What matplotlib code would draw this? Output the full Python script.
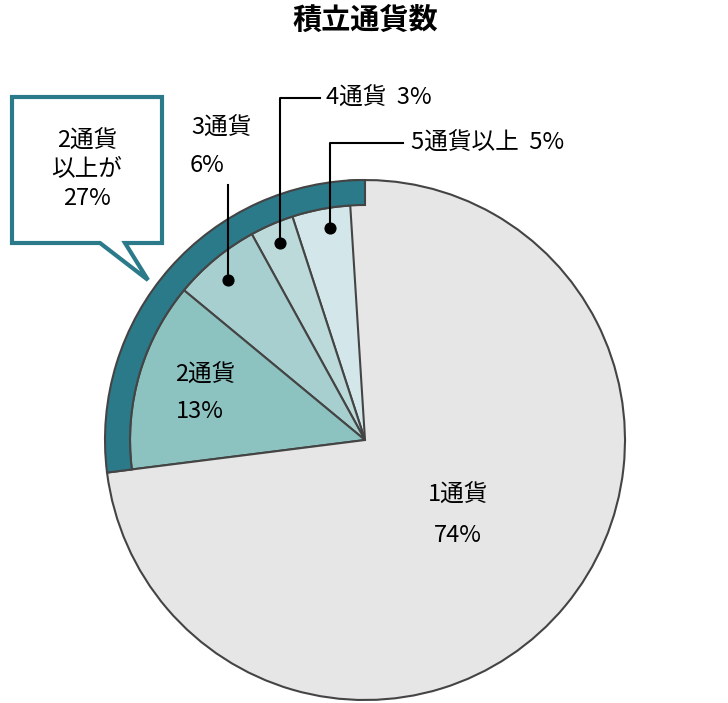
import numpy as np
import matplotlib.pyplot as plt
from matplotlib.patches import Wedge, Polygon

plt.rcParams['font.family'] = 'Noto Sans CJK JP'

labels = ['5通貨以上', '4通貨', '3通貨', '2通貨', '1通貨']
shares = [5, 3, 6, 13, 74]
colors = ['#d3e7ea', '#bcdada', '#a8cfcf', '#8cc3c0', '#e6e6e6']

H = 703
fig = plt.figure(figsize=(7.28, 7.03), dpi=100)
ax = fig.add_axes([0, 0, 1, 1])
ax.set_xlim(0, 728)
ax.set_ylim(0, H)
ax.axis('off')

cx, cy = 365, H - 440
R, r_in = 260, 235

# wedges counterclockwise from top
start = 90.0
for lab, s, c in zip(labels, shares, colors):
    end = start + s * 3.6
    rad = R if lab == '1通貨' else r_in
    ax.add_patch(Wedge((cx, cy), rad, start, end, fc=c, ec='#444444', lw=1.5))
    start = end

# outer ring for 2+ currencies
ring_end = 90 + sum(shares[:4]) * 3.6
ax.add_patch(Wedge((cx, cy), R, 90, ring_end, width=R - r_in,
                   fc='#2b7a8a', ec='#444444', lw=1.5))

def Y(y):
    return H - y

ax.text(365, Y(20), '積立通貨数', ha='center', va='center', fontsize=21, fontweight='bold')

fs = 17
ax.text(458, Y(495), '1通貨', ha='center', va='center', fontsize=fs)
ax.text(458, Y(535), '74%', ha='center', va='center', fontsize=fs)
ax.text(205, Y(375), '2通貨', ha='center', va='center', fontsize=fs)
ax.text(200, Y(412), '13%', ha='center', va='center', fontsize=fs)
ax.text(222, Y(128), '3通貨', ha='center', va='center', fontsize=fs)
ax.text(207, Y(165), '6%', ha='center', va='center', fontsize=fs)
ax.text(326, Y(98), '4通貨  3%', ha='left', va='center', fontsize=fs)
ax.text(411, Y(143), '5通貨以上  5%', ha='left', va='center', fontsize=fs)

# leader lines with dots
ax.plot([228, 228], [Y(280), Y(185)], color='black', lw=1.5)
ax.plot([280, 280, 320], [Y(243), Y(98), Y(98)], color='black', lw=1.5)
ax.plot([330, 330, 403], [Y(228), Y(143), Y(143)], color='black', lw=1.5)
ax.scatter([228, 280, 330], [Y(280), Y(243), Y(228)], s=60, color='black', zorder=5)

# callout box
pts = [(12, 97), (162, 97), (162, 243), (125, 243), (148, 280), (100, 243), (12, 243)]
ax.add_patch(Polygon([(x, Y(y)) for x, y in pts], closed=True, fc='white',
                     ec='#2b7a8a', lw=3, joinstyle='miter'))
ax.text(87, Y(170), '2通貨\n以上が\n27%', ha='center', va='center', fontsize=fs,
        linespacing=1.3)

fig.savefig('out.png', dpi=100)
